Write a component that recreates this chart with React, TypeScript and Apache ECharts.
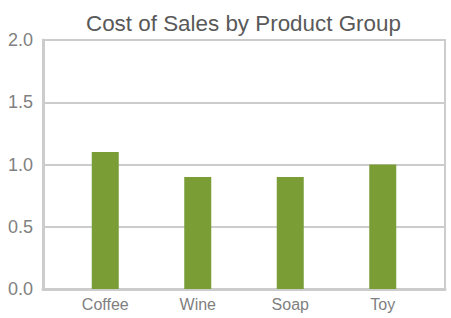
import React, { useEffect, useRef } from "react";
import * as echarts from "echarts";

const categories = ["Coffee", "Wine", "Soap", "Toy"];
const costValues = [1.1, 0.9, 0.9, 1.0];
const yMin = 0;
const yMax = 2;
const yInterval = 0.5;

export default function App() {
  const ref = useRef<HTMLDivElement>(null);
  useEffect(() => {
    const chart = echarts.init(ref.current!, null, { renderer: "svg" });
    const font = "'Liberation Sans', Arial, sans-serif";
    chart.setOption({
      animation: false,
      textStyle: { fontFamily: font },
      title: {
        text: "Cost of Sales by Product Group",
        left: 86,
        top: 12,
        padding: 0,
        textStyle: { fontFamily: font, fontSize: 22.4, fontWeight: "normal", color: "#595959" },
      },
      grid: [
        { left: 43, right: 6, top: 40, bottom: 29, show: true, borderColor: "#cccccc", borderWidth: 2, backgroundColor: "transparent" },
        { left: 59, right: 22, top: 40, bottom: 29 },
      ],
      xAxis: [
        {
          gridIndex: 0,
          type: "category",
          data: categories,
          axisLine: { show: true, lineStyle: { color: "#cccccc", width: 3 } },
          axisTick: { show: false },
          axisLabel: { show: false },
          splitLine: { show: false },
        },
        {
          gridIndex: 1,
          type: "category",
          data: categories,
          axisLine: { show: false },
          axisTick: { show: false },
          axisLabel: { fontFamily: font, fontSize: 16, color: "#808080", margin: 7 },
        },
      ],
      yAxis: [
        {
          gridIndex: 0,
          type: "value",
          min: yMin,
          max: yMax,
          interval: yInterval,
          axisLine: { show: true, lineStyle: { color: "#cccccc", width: 3 } },
          axisTick: { show: false },
          axisLabel: {
            fontFamily: font,
            fontSize: 18,
            color: "#808080",
            margin: 10,
            formatter: (v: number) => v.toFixed(1),
          },
          splitLine: { show: true, lineStyle: { color: "#cccccc", width: 2 } },
        },
        {
          gridIndex: 1,
          type: "value",
          min: yMin,
          max: yMax,
          interval: yInterval,
          show: false,
          splitLine: { show: false },
        },
      ],
      series: [
        {
          type: "bar",
          xAxisIndex: 1,
          yAxisIndex: 1,
          data: costValues,
          barWidth: 27,
          itemStyle: { color: "#7a9e35" },
        },
      ],
    });
    return () => chart.dispose();
  }, []);
  return <div ref={ref} style={{ width: 451, height: 318, position: "absolute", left: 0, top: 0 }} />;
}
